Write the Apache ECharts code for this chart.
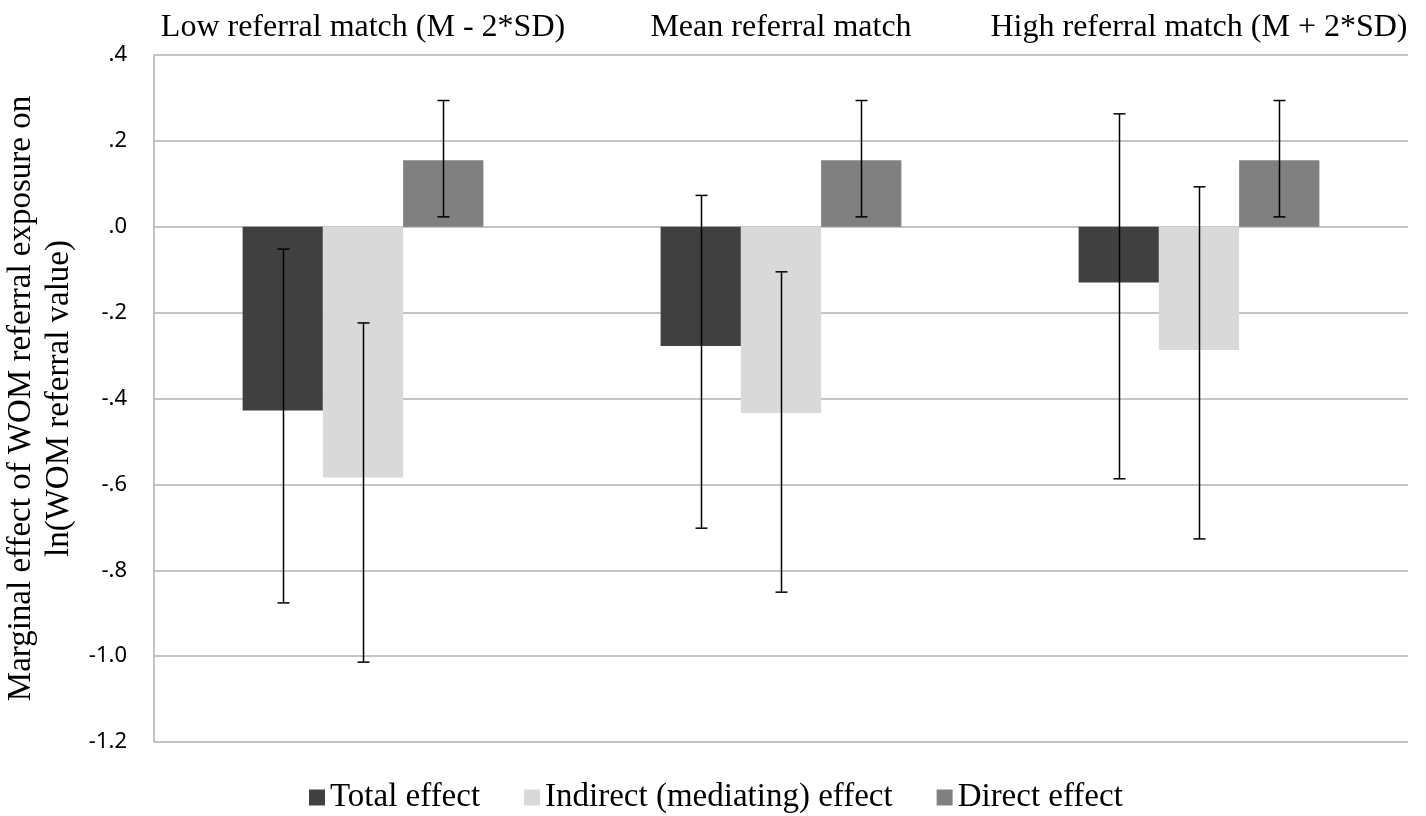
<!DOCTYPE html>
<html>
<head>
<meta charset="utf-8">
<script src="https://cdn.jsdelivr.net/npm/echarts@6/dist/echarts.min.js"></script>
<style>html,body{margin:0;padding:0;background:#fff}#c{width:1426px;height:816px}</style>
</head>
<body>
<div id="c"></div>
<script>
const categories = ['Low referral match (M - 2*SD)', 'Mean referral match', 'High referral match (M + 2*SD)'];
const seriesNames = ['Total effect', 'Indirect (mediating) effect', 'Direct effect'];
const totalEffect = [-0.428, -0.278, -0.130];
const indirectEffect = [-0.584, -0.434, -0.287];
const directEffect = [0.155, 0.155, 0.155];
const totalLow = [-0.876, -0.702, -0.587];
const totalHigh = [-0.052, 0.073, 0.263];
const indirectLow = [-1.014, -0.851, -0.727];
const indirectHigh = [-0.224, -0.105, 0.093];
const directLow = [0.023, 0.023, 0.023];
const directHigh = [0.294, 0.294, 0.294];
const yTickValues = [0.4, 0.2, 0.0, -0.2, -0.4, -0.6, -0.8, -1.0, -1.2];
const yTickLabels = ['.4', '.2', '.0', '-.2', '-.4', '-.6', '-.8', '-1.0', '-1.2'];

const colors = ['#404040', '#d9d9d9', '#808080'];
const gapFrac = 0.424;
const values = [totalEffect, indirectEffect, directEffect];
const lows = [totalLow, indirectLow, directLow];
const highs = [totalHigh, indirectHigh, directHigh];

const chart = echarts.init(document.getElementById('c'));

const barSeries = values.map((v, i) => ({
  name: seriesNames[i],
  type: 'bar',
  data: v,
  barGap: '0%',
  barCategoryGap: (gapFrac * 100) + '%',
  itemStyle: { color: colors[i] },
  z: 2
}));

const errSeries = lows.map((lo, si) => ({
  type: 'custom',
  name: 'err' + si,
  data: categories.map((c, k) => [k, lo[k], highs[si][k]]),
  z: 5,
  silent: true,
  renderItem: function (params, api) {
    const k = api.value(0);
    const pLo = api.coord([k, api.value(1)]);
    const pHi = api.coord([k, api.value(2)]);
    const catW = api.size([1, 0])[0];
    const barW = catW * (1 - gapFrac) / 3;
    const x = Math.round(pLo[0] + (si - 1) * barW) + 0.5;
    const cap = 6;
    const st = { stroke: '#000', lineWidth: 1.5 };
    return {
      type: 'group',
      children: [
        { type: 'line', shape: { x1: x, y1: pLo[1], x2: x, y2: pHi[1] }, style: st },
        { type: 'line', shape: { x1: x - cap, y1: pLo[1], x2: x + cap, y2: pLo[1] }, style: st },
        { type: 'line', shape: { x1: x - cap, y1: pHi[1], x2: x + cap, y2: pHi[1] }, style: st }
      ]
    };
  }
}));

chart.setOption({
  animation: false,
  backgroundColor: '#fff',
  grid: { left: 154, right: 18, top: 55, bottom: 74, containLabel: false, outerBoundsMode: 'none' },
  legend: {
    data: seriesNames,
    top: 776,
    left: 304,
    icon: 'rect',
    itemWidth: 16,
    itemHeight: 16,
    itemGap: 44,
    textStyle: { fontFamily: 'Liberation Serif', fontSize: 33, color: '#000' }
  },
  xAxis: {
    type: 'category',
    position: 'top',
    data: categories,
    axisLine: { show: false },
    axisTick: { show: false },
    axisLabel: { fontFamily: 'Liberation Serif', fontSize: 32, color: '#000', margin: 11, interval: 0 }
  },
  yAxis: {
    type: 'value',
    min: -1.2,
    max: 0.4,
    interval: 0.2,
    name: 'Marginal effect of WOM referral exposure on\nln(WOM referral value)',
    nameLocation: 'middle',
    nameGap: 73,
    nameRotate: 90,
    nameTextStyle: { fontFamily: 'Liberation Serif', fontSize: 33, color: '#000', lineHeight: 38, align: 'center' },
    axisLine: { show: true, lineStyle: { color: '#b0b0b0', width: 1.5 } },
    axisTick: { show: false },
    splitLine: { show: true, lineStyle: { color: '#b0b0b0', width: 1.5 } },
    axisLabel: {
      fontFamily: 'Noto Sans',
      fontSize: 22,
      color: '#000',
      margin: 27,
      formatter: function (v) {
        for (let i = 0; i < yTickValues.length; i++) {
          if (Math.abs(yTickValues[i] - v) < 1e-6) return yTickLabels[i];
        }
        return '';
      }
    }
  },
  series: barSeries.concat(errSeries)
});
</script>
</body>
</html>
